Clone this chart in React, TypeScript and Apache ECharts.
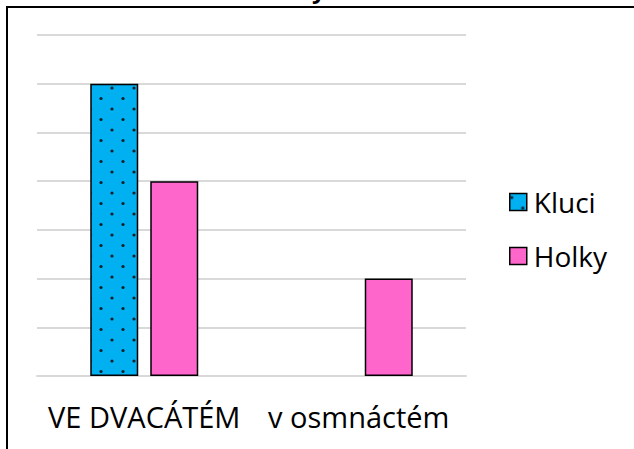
import React, { useEffect, useRef } from "react";
import * as echarts from "echarts";

const categories = ["VE DVACÁTÉM", "v osmnáctém"];
const kluciValues: (number | string)[] = [6, "-"];
const holkyValues: number[] = [4, 2];
const seriesNames = ["Kluci", "Holky"];
const yMin = 0;
const yMax = 7;
const yInterval = 1;

function makeDotPattern(): HTMLCanvasElement {
  const c = document.createElement("canvas");
  c.width = 22;
  c.height = 21;
  const ctx = c.getContext("2d")!;
  ctx.fillStyle = "#00B0F0";
  ctx.fillRect(0, 0, 22, 21);
  ctx.fillStyle = "#15202b";
  const dots = [
    [2, 4],
    [13, 14.5],
  ];
  for (const [x, y] of dots) {
    ctx.beginPath();
    ctx.arc(x, y, 1.6, 0, Math.PI * 2);
    ctx.fill();
  }
  return c;
}

export default function App() {
  const ref = useRef<HTMLDivElement>(null);
  useEffect(() => {
    if (!ref.current) return;
    const chart = echarts.init(ref.current, null, { renderer: "svg" });
    const pattern = makeDotPattern();
    const font = "'Open Sans', 'Noto Sans', sans-serif";
    chart.setOption({
      animation: false,
      backgroundColor: "#ffffff",
      textStyle: { fontFamily: font },
      graphic: [
        {
          type: "rect",
          shape: { x: 7, y: 7, width: 700, height: 500 },
          style: { fill: "none", stroke: "#000000", lineWidth: 2 },
          z: 10,
        },
        {
          type: "text",
          x: 312,
          y: -12,
          style: {
            text: "y",
            font: "bold 24px 'Open Sans', sans-serif",
            fill: "#000000",
            textVerticalAlign: "middle",
          },
          z: 5,
        },
      ],
      legend: {
        orient: "vertical",
        left: 509,
        top: 188,
        padding: 0,
        icon: "rect",
        itemWidth: 17,
        itemHeight: 17,
        itemGap: 26,
        textStyle: { fontSize: 28, color: "#000000", fontFamily: font, padding: [0, 0, 0, 2] },
        data: [
          {
            name: seriesNames[0],
            itemStyle: { color: { image: pattern, repeat: "repeat" }, borderColor: "#000", borderWidth: 1.5 },
          },
          {
            name: seriesNames[1],
            itemStyle: { color: "#FF66CC", borderColor: "#000", borderWidth: 1.5 },
          },
        ],
      },
      grid: { left: 37, right: 168, top: 35, bottom: 73, containLabel: false },
      xAxis: {
        type: "category",
        data: categories,
        axisLine: { lineStyle: { color: "#d9d9d9", width: 2 } },
        axisTick: { show: false },
        axisLabel: { fontSize: 29, color: "#000000", margin: 26, interval: 0, fontFamily: font },
      },
      yAxis: {
        type: "value",
        min: yMin,
        max: yMax,
        interval: yInterval,
        axisLabel: { show: false },
        axisLine: { show: false },
        axisTick: { show: false },
        splitLine: { lineStyle: { color: "#d9d9d9", width: 2 } },
      },
      series: [
        {
          name: seriesNames[0],
          type: "bar",
          data: kluciValues,
          barWidth: 48,
          barGap: "25%",
          itemStyle: { color: { image: pattern, repeat: "repeat" }, borderColor: "#000000", borderWidth: 1.5 },
        },
        {
          name: seriesNames[1],
          type: "bar",
          data: holkyValues,
          barWidth: 48,
          barGap: "25%",
          itemStyle: { color: "#FF66CC", borderColor: "#000000", borderWidth: 1.5 },
        },
      ],
    });
    return () => chart.dispose();
  }, []);
  return (
    <div
      ref={ref}
      style={{ position: "fixed", left: 0, top: 0, width: 634, height: 449, background: "#fff" }}
    />
  );
}
